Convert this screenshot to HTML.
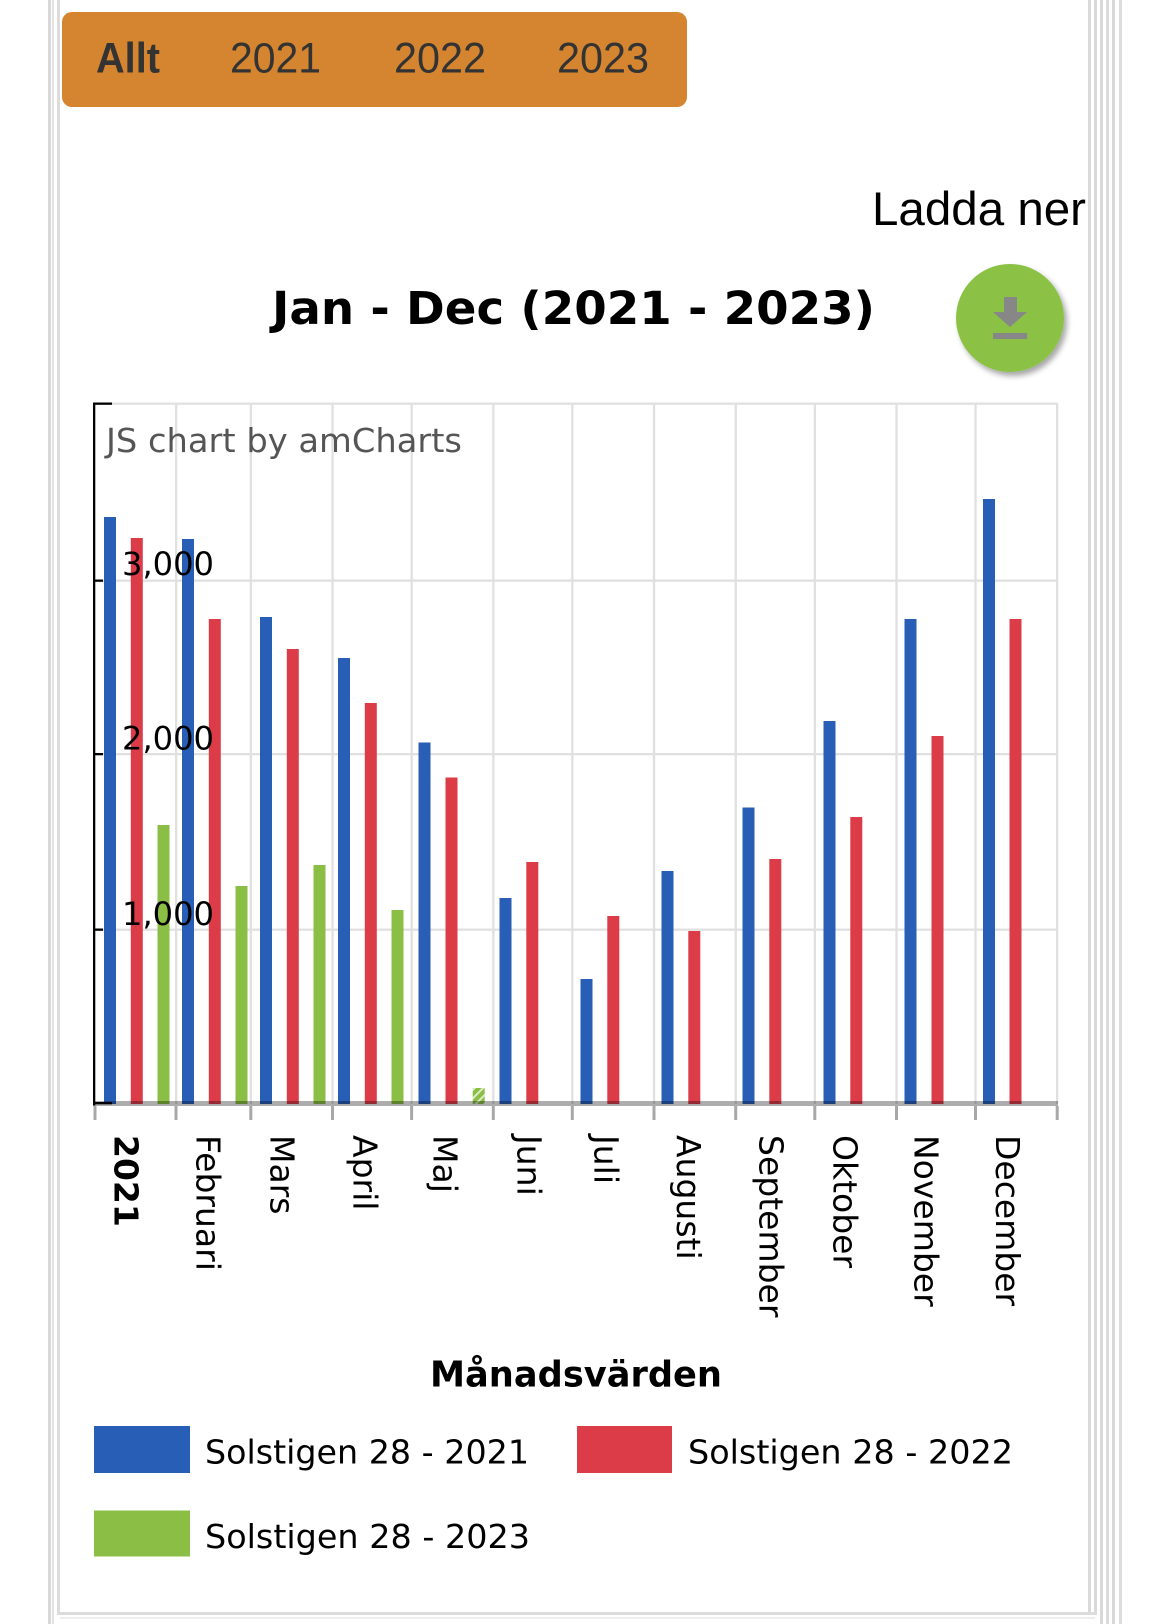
<!DOCTYPE html>
<html>
<head>
<meta charset="utf-8">
<style>
  html,body{margin:0;padding:0;background:#fff;}
  svg{display:block;}
</style>
</head>
<body>
<svg width="1170" height="1624" viewBox="0 0 1170 1624" xmlns="http://www.w3.org/2000/svg">
  <defs>
    <filter id="sh" x="-30%" y="-30%" width="160%" height="160%">
      <feDropShadow dx="3" dy="4" stdDeviation="3" flood-color="#000" flood-opacity="0.35"/>
    </filter>
    <pattern id="hatch" width="6" height="6" patternUnits="userSpaceOnUse" patternTransform="rotate(45)">
      <rect width="6" height="6" fill="#8bbe44"/>
      <rect width="2" height="6" fill="#ffffff" opacity="0.7"/>
    </pattern>
  </defs>
  <rect x="0" y="0" width="1170" height="1624" fill="#fff"/>

  <!-- page borders -->
  <rect x="48" y="0" width="3" height="1624" fill="#d8d8d8"/>
  <rect x="52" y="0" width="2" height="1624" fill="#e2e2e2"/>
  <rect x="57" y="0" width="3" height="1615" fill="#dcdcdc"/>
  <rect x="1088" y="0" width="3" height="1615" fill="#d9d9d9"/>
  <rect x="1094" y="0" width="3" height="1615" fill="#d9d9d9"/>
  <rect x="1100" y="0" width="3" height="1624" fill="#d9d9d9"/>
  <rect x="1106" y="0" width="3" height="1624" fill="#dcdcdc"/>
  <rect x="1112" y="0" width="3" height="1624" fill="#d9d9d9"/>
  <rect x="1119" y="0" width="3" height="1624" fill="#dcdcdc"/>
  <rect x="57" y="1612" width="1040" height="3" fill="#dcdcdc"/>
  <rect x="60" y="1617" width="1035" height="2" fill="#eeeeee"/>

  <!-- orange selector -->
  <rect x="62" y="12" width="625" height="95" rx="10" ry="10" fill="#d5852f"/>
  <g font-family="'Liberation Sans', Arial, sans-serif" font-size="43" fill="#333">
    <text x="96" y="72.5" font-weight="bold" textLength="64" lengthAdjust="spacingAndGlyphs">Allt</text>
    <text x="230" y="72.5" textLength="91" lengthAdjust="spacingAndGlyphs">2021</text>
    <text x="394" y="72.5" textLength="92" lengthAdjust="spacingAndGlyphs">2022</text>
    <text x="557" y="72.5" textLength="92" lengthAdjust="spacingAndGlyphs">2023</text>
  </g>

  <!-- Ladda ner -->
  <text x="872" y="225" font-family="'Liberation Sans', Arial, sans-serif" font-size="47" fill="#000" textLength="214" lengthAdjust="spacingAndGlyphs">Ladda ner</text>

  <!-- Title -->
  <text x="272" y="324" font-family="'DejaVu Sans', Verdana, sans-serif" font-weight="bold" font-size="45" fill="#000" textLength="603" lengthAdjust="spacingAndGlyphs">Jan - Dec (2021 - 2023)</text>

  <!-- download button -->
  <circle cx="1010" cy="318" r="54" fill="#8bc145" filter="url(#sh)"/>
  <rect x="1004" y="297" width="13" height="16" fill="#878787"/>
  <polygon points="993,312 1027,312 1010,327" fill="#878787"/>
  <rect x="993" y="333" width="34" height="6" fill="#878787"/>

  <!-- grid -->
  <g fill="#e0e0e0">
    <rect x="95" y="402.5" width="962" height="2.3"/>
    <rect x="95" y="579.5" width="962" height="2.3"/>
    <rect x="95" y="753" width="962" height="2.3"/>
    <rect x="95" y="928.5" width="962" height="2.3"/>
    <rect x="175" y="403" width="2.3" height="701"/>
    <rect x="249.7" y="403" width="2.3" height="701"/>
    <rect x="331.4" y="403" width="2.3" height="701"/>
    <rect x="410.5" y="403" width="2.3" height="701"/>
    <rect x="492.2" y="403" width="2.3" height="701"/>
    <rect x="571.2" y="403" width="2.3" height="701"/>
    <rect x="652.9" y="403" width="2.3" height="701"/>
    <rect x="734.6" y="403" width="2.3" height="701"/>
    <rect x="813.7" y="403" width="2.3" height="701"/>
    <rect x="895.4" y="403" width="2.3" height="701"/>
    <rect x="974.4" y="403" width="2.3" height="701"/>
    <rect x="1056" y="403" width="2.3" height="701"/>
  </g>

  <!-- JS chart by amCharts -->
  <text x="106" y="452" font-family="'DejaVu Sans', Verdana, sans-serif" font-size="33" fill="#555" textLength="356" lengthAdjust="spacingAndGlyphs">JS chart by amCharts</text>

  <!-- bars -->
  <g fill="#285eb6">
    <rect x="104" y="517" width="12" height="587"/>
    <rect x="182" y="539" width="12" height="565"/>
    <rect x="260" y="617" width="12" height="487"/>
    <rect x="338" y="658" width="12" height="446"/>
    <rect x="418.5" y="742.5" width="12" height="361.5"/>
    <rect x="499.5" y="898" width="12" height="206"/>
    <rect x="580.5" y="979" width="12" height="125"/>
    <rect x="661.5" y="871" width="12" height="233"/>
    <rect x="742.5" y="807.5" width="12" height="296.5"/>
    <rect x="823.5" y="721" width="12" height="383"/>
    <rect x="904.5" y="619" width="12" height="485"/>
    <rect x="983" y="499" width="12" height="605"/>
  </g>
  <g fill="#dc3b48">
    <rect x="130.8" y="538" width="12" height="566"/>
    <rect x="208.8" y="619" width="12" height="485"/>
    <rect x="286.8" y="649" width="12" height="455"/>
    <rect x="364.8" y="703" width="12" height="401"/>
    <rect x="445.5" y="777.5" width="12" height="326.5"/>
    <rect x="526.3" y="862" width="12" height="242"/>
    <rect x="607.3" y="916" width="12" height="188"/>
    <rect x="688.3" y="931" width="12" height="173"/>
    <rect x="769.3" y="859" width="12" height="245"/>
    <rect x="850.3" y="817" width="12" height="287"/>
    <rect x="931.5" y="736" width="12" height="368"/>
    <rect x="1009.5" y="619" width="12" height="485"/>
  </g>
  <g fill="#8bbe44">
    <rect x="157.5" y="825" width="12" height="279"/>
    <rect x="235.5" y="886" width="12" height="218"/>
    <rect x="313.5" y="865" width="12" height="239"/>
    <rect x="391.5" y="910" width="12" height="194"/>
  </g>
  <rect x="472.7" y="1088" width="12" height="16" fill="url(#hatch)"/>

  <!-- y labels -->
  <g font-family="'DejaVu Sans', Verdana, sans-serif" font-size="32" fill="#000">
    <text x="122" y="575" textLength="92" lengthAdjust="spacingAndGlyphs">3,000</text>
    <text x="122" y="749.5" textLength="92" lengthAdjust="spacingAndGlyphs">2,000</text>
    <text x="122" y="925" textLength="92" lengthAdjust="spacingAndGlyphs">1,000</text>
  </g>

  <!-- left axis -->
  <rect x="93" y="402.5" width="2.3" height="703" fill="#000"/>
  <rect x="93" y="402.5" width="19" height="2.3" fill="#000"/>
  <rect x="93" y="579.5" width="10" height="2.3" fill="#000"/>
  <rect x="93" y="753" width="10" height="2.3" fill="#000"/>
  <rect x="93" y="928.5" width="10" height="2.3" fill="#000"/>
  <rect x="93" y="1102" width="19" height="2.3" fill="#000"/>

  <!-- x axis -->
  <rect x="93" y="1101" width="965" height="5" fill="#000" opacity="0.32"/>
  <g fill="#a8a8a8">
    <rect x="93.5" y="1106" width="3" height="14"/>
    <rect x="174.5" y="1106" width="3" height="14"/>
    <rect x="249.3" y="1106" width="3" height="14"/>
    <rect x="331" y="1106" width="3" height="14"/>
    <rect x="410.1" y="1106" width="3" height="14"/>
    <rect x="491.8" y="1106" width="3" height="14"/>
    <rect x="570.8" y="1106" width="3" height="14"/>
    <rect x="652.5" y="1106" width="3" height="14"/>
    <rect x="734.2" y="1106" width="3" height="14"/>
    <rect x="813.3" y="1106" width="3" height="14"/>
    <rect x="895" y="1106" width="3" height="14"/>
    <rect x="974" y="1106" width="3" height="14"/>
    <rect x="1055.7" y="1106" width="3" height="14"/>
  </g>

  <!-- x labels (rotated) -->
  <g font-family="'DejaVu Sans', Verdana, sans-serif" font-size="33" fill="#000">
    <text transform="translate(114.5,1135) rotate(90)" font-weight="bold">2021</text>
    <text transform="translate(196.5,1135) rotate(90)">Februari</text>
    <text transform="translate(270.5,1135) rotate(90)">Mars</text>
    <text transform="translate(353.5,1135) rotate(90)">April</text>
    <text transform="translate(433.5,1135) rotate(90)">Maj</text>
    <text transform="translate(517.5,1135) rotate(90)">Juni</text>
    <text transform="translate(594.5,1135) rotate(90)">Juli</text>
    <text transform="translate(677,1135) rotate(90)">Augusti</text>
    <text transform="translate(759.5,1135) rotate(90)">September</text>
    <text transform="translate(833.5,1135) rotate(90)">Oktober</text>
    <text transform="translate(914.5,1135) rotate(90)">November</text>
    <text transform="translate(996,1135) rotate(90)">December</text>
  </g>

  <!-- legend title -->
  <text x="430" y="1386.5" font-family="'DejaVu Sans', Verdana, sans-serif" font-weight="bold" font-size="36" fill="#000" textLength="292" lengthAdjust="spacingAndGlyphs">Månadsvärden</text>

  <!-- legend -->
  <rect x="94" y="1426" width="96" height="47" fill="#285eb6"/>
  <rect x="577" y="1426" width="95" height="47" fill="#dc3b48"/>
  <rect x="94" y="1510.5" width="96" height="46" fill="#8bbe44"/>
  <g font-family="'DejaVu Sans', Verdana, sans-serif" font-size="33" fill="#000">
    <text x="205" y="1463.5" textLength="324" lengthAdjust="spacingAndGlyphs">Solstigen 28 - 2021</text>
    <text x="688" y="1463.5" textLength="325" lengthAdjust="spacingAndGlyphs">Solstigen 28 - 2022</text>
    <text x="205" y="1548" textLength="325" lengthAdjust="spacingAndGlyphs">Solstigen 28 - 2023</text>
  </g>
</svg>
</body>
</html>
